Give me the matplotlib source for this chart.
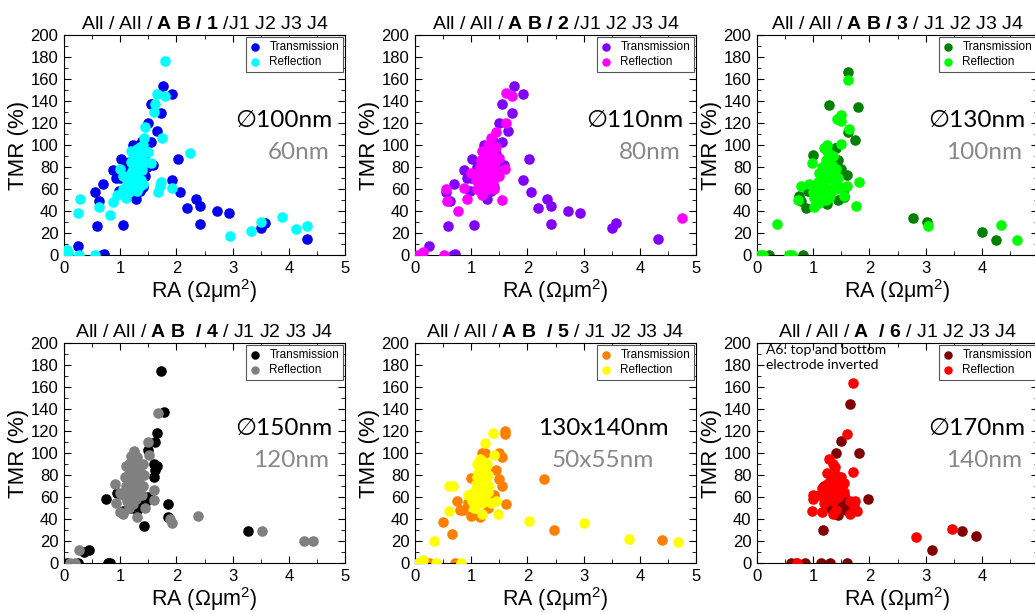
import matplotlib
matplotlib.use("Agg")
import matplotlib.pyplot as plt
from matplotlib.ticker import MultipleLocator, FixedLocator

plt.rcParams["font.family"] = ["Liberation Sans", "DejaVu Sans"]
plt.rcParams["mathtext.fontset"] = "custom"
plt.rcParams["mathtext.rm"] = "Liberation Sans"
plt.rcParams["mathtext.bf"] = "Liberation Sans:bold"
plt.rcParams["mathtext.it"] = "Liberation Sans:italic"

# ---- panel 1 : diameter 100 nm ----
t1_x = [0.25, 0.68, 0.72, 0.55, 0.58, 0.63, 0.70, 0.88, 0.93, 0.98, 1.02, 1.05, 1.28, 1.50, 1.55,
        1.55, 1.65, 1.72, 1.77, 1.92, 1.92, 2.03, 2.07, 2.18, 2.35, 2.42, 2.42, 2.72, 2.93, 3.50,
        3.58, 4.33, 1.58, 1.45, 1.38, 1.33, 1.10, 1.20, 1.35, 1.25, 1.40, 1.15, 1.30, 1.45,
        1.00, 1.08, 1.36, 1.42, 1.22, 1.48]
t1_y = [8, 0, 1, 57, 26, 49, 65, 77, 70, 58, 87, 27, 51, 120, 103,
        137, 113, 129, 154, 146, 68, 87, 57, 43, 51, 45, 28, 40, 38, 25,
        29, 15, 82, 92, 104, 100, 80, 68, 75, 55, 62, 85, 90, 72,
        70, 74, 58, 96, 100, 80]
r1_x = [0.05, 0.08, 0.27, 0.55, 0.25, 0.28, 0.62, 0.82, 0.88, 0.95, 1.00, 1.10, 1.05, 1.15, 1.20,
        1.25, 1.30, 1.35, 1.40, 1.42, 1.45, 1.50, 1.55, 1.60, 1.62, 1.65, 1.67, 1.70, 1.73, 1.75,
        1.80, 1.80, 1.93, 2.25, 2.95, 3.32, 3.50, 3.88, 4.13, 4.33, 1.20, 1.30, 1.25, 1.35, 1.15,
        1.40, 1.30, 1.20, 1.38, 1.45, 1.10, 1.15, 1.20, 1.25, 1.30, 1.35, 1.25, 1.30, 1.35, 1.28,
        1.22, 1.18, 1.33, 1.40, 1.42, 1.37, 1.12, 1.05, 1.27, 1.32, 1.23]
r1_y = [5, 2, 0, 0, 38, 51, 44, 36, 48, 55, 78, 52, 72, 65, 95,
        88, 60, 82, 100, 106, 116, 94, 84, 130, 137, 146, 57, 63, 66, 106,
        145, 176, 61, 93, 17, 22, 30, 35, 24, 26, 75, 70, 80, 90, 60,
        65, 58, 85, 77, 85, 62, 57, 66, 62, 66, 63, 92, 96, 98, 84,
        78, 72, 80, 83, 95, 68, 68, 60, 73, 88, 88]

# ---- panel 2 : diameter 110 nm ----
t2_x = t1_x
t2_y = t1_y
r2_x = [0.05, 0.15, 0.52, 0.55, 0.57, 0.77, 0.88, 0.92, 1.00, 1.10, 1.20, 1.30, 1.35, 1.45, 1.50,
        1.55, 1.60, 1.62, 1.62, 1.72, 1.35, 1.25, 1.20, 1.40, 1.30, 1.15, 1.45, 4.75, 1.40, 1.25,
        1.10, 1.50, 1.12, 1.18, 1.22, 1.28, 1.32, 1.38, 1.42, 1.25, 1.30, 1.35, 1.20, 1.28, 1.33,
        1.15, 1.24, 1.38, 1.45, 1.08, 1.18, 1.30]
r2_y = [0, 3, 0, 60, 49, 40, 61, 51, 75, 60, 95, 100, 106, 112, 72,
        50, 78, 120, 147, 145, 85, 70, 55, 60, 90, 80, 98, 34, 75, 65,
        70, 88, 66, 62, 58, 60, 64, 66, 80, 88, 94, 96, 84, 78, 72,
        74, 92, 90, 86, 68, 86, 82]

# ---- panel 3 : diameter 130 nm ----
t3_x = [0.22, 0.82, 0.75, 0.78, 0.88, 1.00, 1.28, 1.25, 1.45, 1.50, 1.60, 1.62, 1.62, 1.75, 1.80,
        1.40, 1.45, 1.30, 1.20, 1.35, 2.77, 3.02, 4.00, 4.25, 1.10, 1.55, 0.90, 1.55, 1.38]
t3_y = [0, 0, 54, 49, 43, 91, 136, 46, 50, 78, 73, 112, 166, 105, 135,
        97, 86, 80, 60, 70, 34, 30, 21, 14, 55, 60, 58, 53, 97]
r3_x = [0.05, 0.10, 0.35, 0.57, 0.62, 0.73, 0.78, 0.93, 0.97, 1.00, 1.02, 1.10, 1.20, 1.25, 1.30,
        1.35, 1.42, 1.50, 1.50, 1.50, 1.55, 1.60, 1.62, 1.63, 1.77, 1.82, 3.05, 4.35, 4.62, 1.15,
        1.25, 1.20, 1.40, 1.30, 1.35, 1.10, 1.45, 1.25, 1.05, 1.12, 1.18, 1.22, 1.28, 1.32, 1.38,
        1.42, 1.15, 1.22, 1.28, 1.33, 1.20, 1.26, 1.30, 1.24, 1.08, 1.17, 1.35, 1.40, 1.48, 1.02]
r3_y = [0, 0, 28, 0, 0, 50, 63, 65, 84, 57, 44, 47, 97, 100, 88,
        75, 124, 127, 122, 101, 54, 63, 159, 115, 45, 66, 26, 27, 14, 70,
        80, 65, 60, 55, 90, 75, 70, 58, 62, 58, 52, 50, 52, 60, 66,
        64, 80, 86, 92, 82, 74, 70, 76, 95, 66, 62, 72, 78, 62, 52]

# ---- panel 4 : diameter 150 nm ----
t4_x = [0.05, 0.25, 0.45, 0.35, 0.78, 0.82, 0.75, 0.95, 1.05, 1.30, 1.42, 1.50, 1.60, 1.62, 1.65,
        1.62, 1.60, 1.72, 1.78, 1.85, 1.85, 3.27, 1.20, 1.40, 1.10, 1.30, 1.50, 1.65, 1.35, 1.45]
t4_y = [0, 0, 12, 10, 0, 0, 58, 64, 47, 48, 34, 103, 90, 110, 118,
        85, 78, 175, 137, 54, 42, 29, 50, 57, 62, 60, 60, 88, 52, 55]
r4_x = [0.10, 0.20, 0.27, 0.90, 0.92, 1.00, 1.05, 1.10, 1.15, 1.20, 1.25, 1.30, 1.40, 1.45, 1.50,
        1.52, 1.60, 1.60, 1.67, 1.88, 1.92, 2.38, 3.53, 4.27, 4.43, 1.15, 1.20, 1.30, 1.25, 1.10,
        1.35, 1.20, 1.40, 1.30, 1.15, 1.05, 1.12, 1.18, 1.22, 1.28, 1.33, 1.38, 1.25, 1.30, 1.20,
        1.35, 1.08, 1.42, 1.22, 1.28, 1.00, 1.15]
r4_y = [0, 0, 12, 72, 55, 46, 45, 88, 50, 97, 102, 42, 70, 50, 110,
        98, 66, 57, 136, 40, 36, 43, 29, 20, 20, 75, 80, 85, 65, 70,
        78, 60, 90, 72, 90, 62, 56, 66, 70, 58, 66, 62, 92, 96, 88,
        84, 78, 80, 54, 76, 64, 82]

# ---- panel 5 : 130x140 nm ----
t5_x = [0.05, 0.25, 0.50, 0.65, 0.72, 0.75, 0.80, 0.85, 1.00, 1.00, 1.15, 1.20, 1.30, 1.50, 1.55,
        1.50, 1.55, 1.60, 1.60, 1.62, 1.40, 1.30, 1.10, 2.30, 2.48, 4.40, 1.25, 1.45, 1.35, 0.95]
t5_y = [0, 0, 37, 26, 0, 56, 48, 48, 43, 77, 42, 100, 50, 100, 96,
        76, 70, 120, 117, 54, 62, 82, 55, 76, 30, 21, 100, 85, 60, 55]
r5_x = [0.05, 0.15, 0.38, 0.33, 0.60, 0.68, 0.60, 0.82, 1.00, 1.05, 1.10, 1.15, 1.20, 1.25, 1.38,
        1.40, 1.30, 1.20, 1.15, 1.25, 1.10, 1.30, 1.45, 1.48, 1.20, 2.02, 3.00, 3.80, 4.68, 1.05,
        1.35, 1.02, 1.08, 1.12, 1.18, 1.22, 1.28, 1.12, 1.18, 1.22, 1.15, 1.25, 1.08, 1.20, 1.32,
        0.95, 1.28, 1.17]
r5_y = [0, 3, 0, 20, 70, 70, 47, 0, 60, 65, 90, 95, 75, 109, 118,
        98, 80, 55, 70, 85, 78, 65, 56, 45, 45, 38, 36, 22, 19, 50,
        55, 56, 60, 66, 62, 68, 72, 82, 88, 92, 56, 60, 72, 64, 70,
        62, 90, 80]

# ---- panel 6 : diameter 170 nm ----
t6_x = [0.60, 0.70, 0.85, 1.13, 1.30, 1.60, 1.17, 1.25, 1.30, 1.40, 1.50, 1.65, 1.82, 1.97, 1.45,
        1.50, 1.55, 1.60, 1.35, 1.40, 3.12, 3.65, 3.90, 1.20, 1.50, 1.45, 1.58]
t6_y = [0, 0, 0, 0, 0, 0, 30, 55, 50, 100, 111, 145, 100, 58, 44,
        50, 62, 55, 60, 45, 12, 29, 25, 70, 70, 56, 48]
r6_x = [0.72, 0.98, 1.00, 1.00, 1.15, 1.15, 1.20, 1.25, 1.28, 1.30, 1.35, 1.38, 1.40, 1.45, 1.50,
        1.55, 1.60, 1.65, 1.70, 1.70, 1.72, 1.75, 1.78, 1.65, 1.20, 1.30, 1.35, 2.83, 3.47, 1.25,
        1.45, 1.55, 1.32, 1.38, 1.42, 1.48, 1.28, 1.35, 1.40, 1.22, 1.10, 1.52]
r6_y = [0, 47, 62, 58, 68, 46, 60, 82, 95, 75, 90, 87, 48, 70, 78,
        73, 117, 56, 164, 83, 52, 56, 47, 45, 55, 65, 45, 24, 31, 72,
        60, 65, 70, 76, 68, 74, 64, 56, 80, 66, 62, 70]

titles = [r"All / All / $\mathbf{A\ B\ /\ 1}$ /J1 J2 J3 J4",
          r"All / All / $\mathbf{A\ B\ /\ 2}$ /J1 J2 J3 J4",
          r"All / All / $\mathbf{A\ B\ /\ 3}$ / J1 J2 J3 J4",
          r"All / All / $\mathbf{A\ B\ \ /\ 4}$ / J1 J2 J3 J4",
          r"All / All / $\mathbf{A\ B\ \ /\ 5}$ / J1 J2 J3 J4",
          r"All / All / $\mathbf{A\ \ /\ 6}$ / J1 J2 J3 J4"]
sizes_outer = ["\u2205100nm", "\u2205110nm", "\u2205130nm", "\u2205150nm", "130x140nm", "\u2205170nm"]
sizes_inner = ["60nm", "80nm", "100nm", "120nm", "50x55nm", "140nm"]
trans_colors = ["#0000ee", "#8000ff", "#008000", "#000000", "#ff8000", "#800000"]
refl_colors = ["#00ffff", "#ff00ff", "#00ff00", "#808080", "#ffff00", "#ff0000"]

panels = [(t1_x, t1_y, r1_x, r1_y), (t2_x, t2_y, r2_x, r2_y), (t3_x, t3_y, r3_x, r3_y),
          (t4_x, t4_y, r4_x, r4_y), (t5_x, t5_y, r5_x, r5_y), (t6_x, t6_y, r6_x, r6_y)]

W, H = 1035, 613
fig = plt.figure(figsize=(W / 100, H / 100), dpi=100)

lefts = [64, 415, 757]
tops = [35, 343]
aw, ah = 281, 220
calibri = ["Lato", "DejaVu Sans"]

for i, (tx, ty, rx, ry) in enumerate(panels):
    row, col = divmod(i, 3)
    ax = fig.add_axes([lefts[col] / W, 1 - (tops[row] + ah) / H, aw / W, ah / H])
    ax.scatter(tx, ty, s=58, color=trans_colors[i], linewidths=0, label="Transmission", zorder=2)
    ax.scatter(rx, ry, s=58, color=refl_colors[i], linewidths=0, label="Reflection", zorder=3)
    ax.set_xlim(0, 5)
    ax.set_ylim(0, 200)
    # right-hand column runs past the figure edge; its last label is not shown
    ax.xaxis.set_major_locator(FixedLocator([0, 1, 2, 3, 4] if col == 2 else [0, 1, 2, 3, 4, 5]))
    ax.xaxis.set_minor_locator(MultipleLocator(0.5))
    ax.yaxis.set_major_locator(MultipleLocator(20))
    ax.yaxis.set_minor_locator(MultipleLocator(10))
    ax.tick_params(which="both", direction="in", top=True, right=True, labelsize=12, pad=4)
    ax.tick_params(which="major", length=5)
    ax.tick_params(which="minor", length=3)
    ax.set_xlabel("RA (\u03a9\u03bcm$^2$)", fontsize=15.5, labelpad=1)
    ax.set_ylabel("TMR (%)", fontsize=16, labelpad=1)
    ax.set_title(titles[i], fontsize=14, pad=4)
    leg = ax.legend(loc="upper right", fontsize=8.5, handlelength=0.8, handletextpad=0.8,
                    borderpad=0.35, labelspacing=0.25, borderaxespad=0.15, fancybox=False,
                    framealpha=1, markerscale=0.8)
    leg.get_frame().set_edgecolor("#555555")
    leg.get_frame().set_linewidth(0.8)
    if i == 4:
        ax.text(3.35, 122, sizes_outer[i], fontsize=17.5, ha="center", va="center", family=calibri)
        ax.text(3.35, 93, sizes_inner[i], fontsize=17.5, ha="center", va="center",
                color="#888888", family=calibri)
    else:
        ax.text(4.78, 122, sizes_outer[i], fontsize=17.5, ha="right", va="center", family=calibri)
        ax.text(4.72, 93, sizes_inner[i], fontsize=17.5, ha="right", va="center",
                color="#888888", family=calibri)
    if i == 5:
        ax.text(0.16, 199, "A6: top and bottom\nelectrode inverted", fontsize=10, ha="left",
                va="top", family=calibri, linespacing=1.25)

fig.savefig("out.png", dpi=100)
